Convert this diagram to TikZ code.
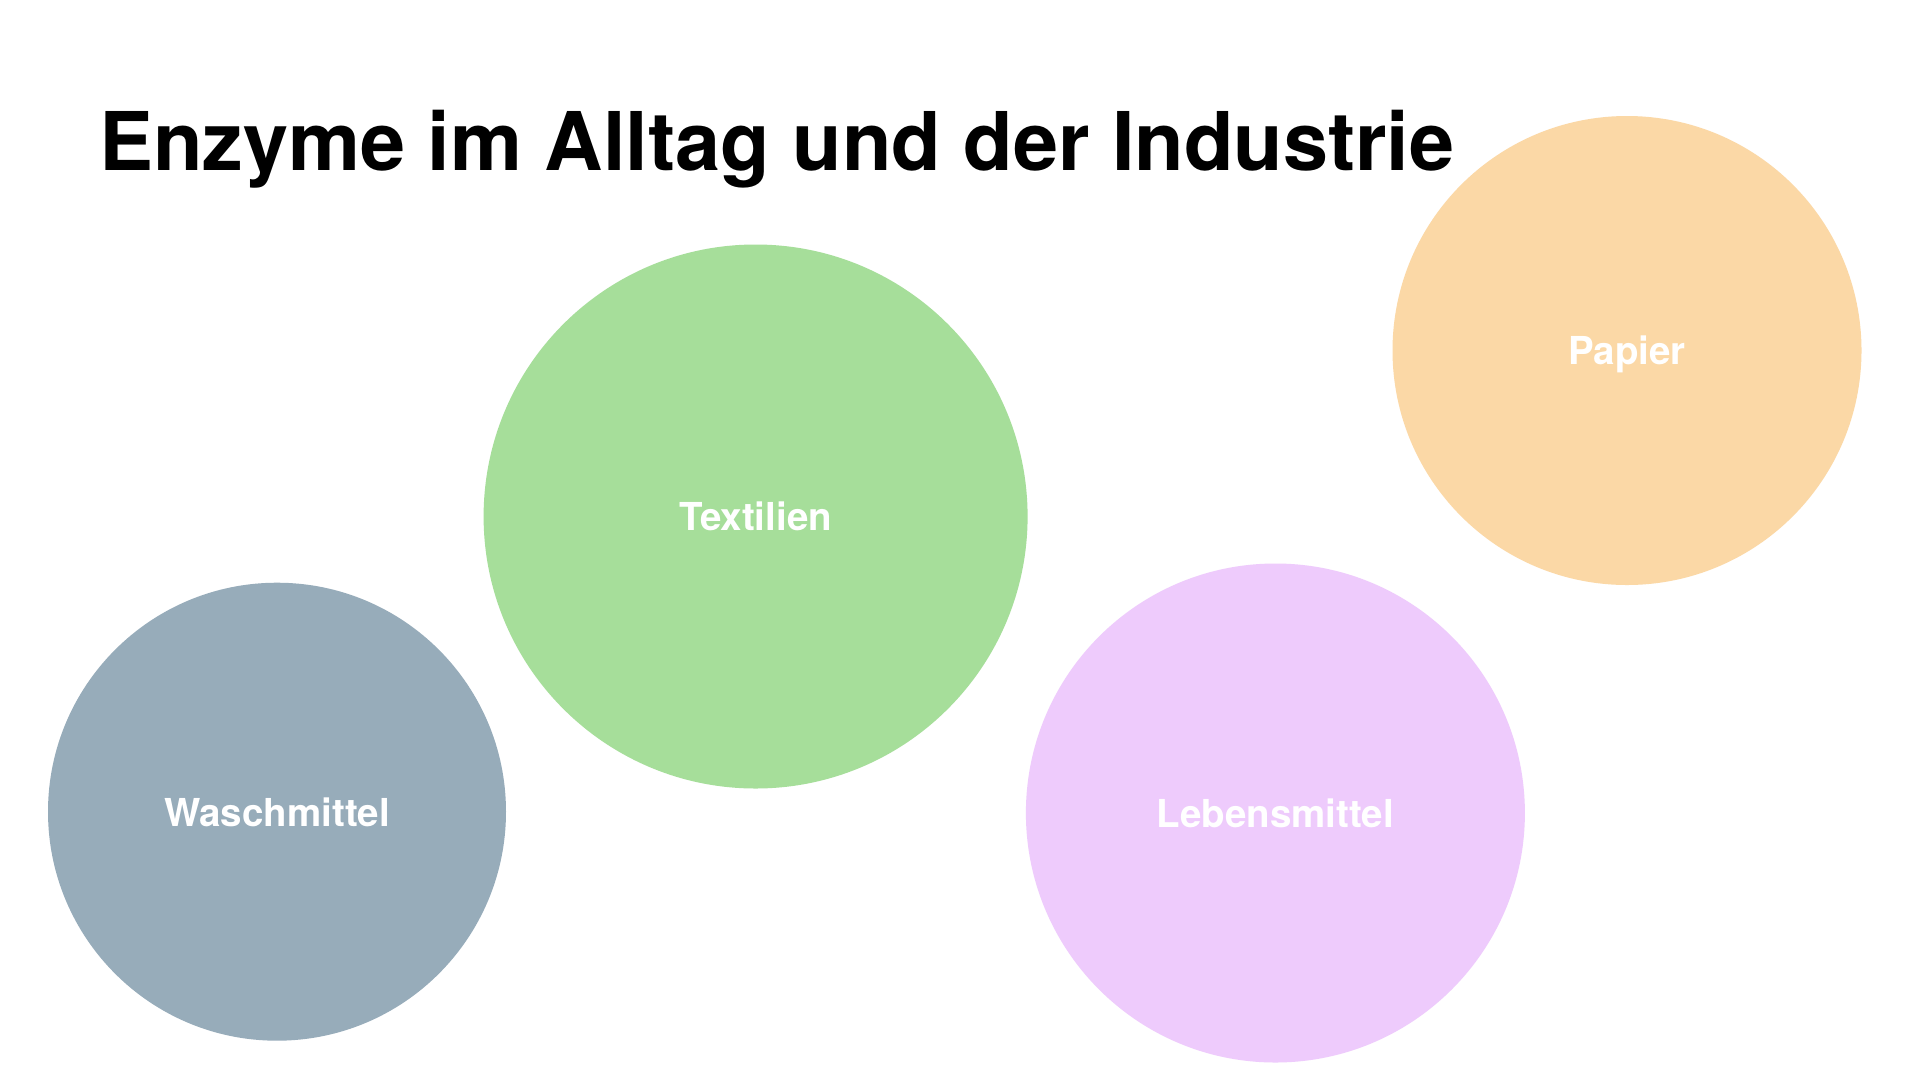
\documentclass[tikz,border=0pt]{standalone}
\usepackage{fontspec}
\setmainfont{TeX Gyre Heros}
\definecolor{cgrey}{RGB}{151,172,186}
\definecolor{cgreen}{RGB}{166,222,154}
\definecolor{cpurple}{RGB}{238,203,252}
\definecolor{corange}{RGB}{251,216,166}
\tikzset{
  blob/.style={circle, draw=none, inner sep=0pt, outer sep=0pt},
  blobtext/.style={anchor=base, inner sep=0pt, text=white, font=\bfseries\fontsize{38.5}{44}\selectfont},
  titletext/.style={anchor=base west, inner sep=0pt, text=black, font=\bfseries\fontsize{81}{90}\selectfont}
}
\begin{document}
\begin{tikzpicture}[x=1pt,y=-1pt]
\useasboundingbox (0,0) rectangle (1920,1080);
\fill[white] (0,0) rectangle (1920,1080);
\node[titletext] (title) at (99,170.7) {Enzyme im Alltag und der Industrie};
\node[blob, fill=corange, minimum size=469pt] (papier) at (1627,350.5) {};
\node[blob, fill=cgreen, minimum size=544pt] (textilien) at (755.6,516.5) {};
\node[blob, fill=cgrey, minimum size=458pt] (wasch) at (277,811.7) {};
\node[blob, fill=cpurple, minimum size=499pt] (lebens) at (1275.4,813) {};
\node[blobtext] (papierlabel) at (1627,364.3) {Papier};
\node[blobtext] (textilienlabel) at (755.6,530.5) {Textilien};
\node[blobtext] (waschlabel) at (277,826) {Waschmittel};
\node[blobtext] (lebenslabel) at (1275.4,827) {Lebensmittel};
\end{tikzpicture}
\end{document}
